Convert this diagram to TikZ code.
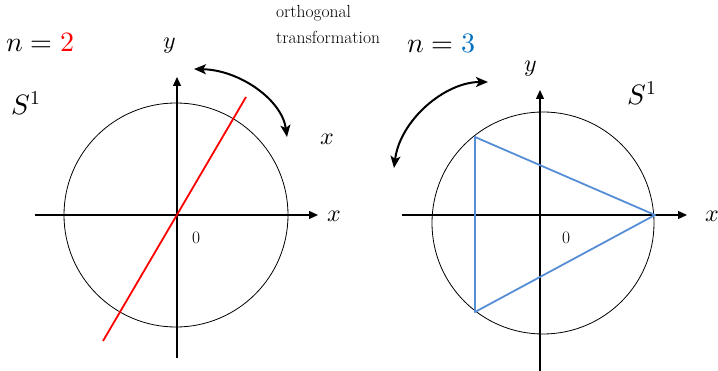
\documentclass[tikz,border=0pt]{standalone}
\usepackage{unicode-math}
\usetikzlibrary{arrows.meta}
\definecolor{triblue}{RGB}{86,142,214}
\definecolor{numblue}{RGB}{0,112,192}
\tikzset{
  axis/.style={line width=1.3pt,-{Triangle[length=9pt,width=8pt]}},
  rim/.style={line width=0.8pt},
  turn/.style={line width=2pt,{Stealth[length=12pt,width=10pt,inset=3pt]}-{Stealth[length=12pt,width=10pt,inset=3pt]}},
  lbl/.style={inner sep=0pt,anchor=base west},
  big/.style={lbl,font=\fontsize{28}{30}\selectfont},
  axl/.style={lbl,font=\fontsize{24}{26}\selectfont},
  small/.style={lbl,font=\fontsize{17.5}{19}\selectfont},
}
\begin{document}
\begin{tikzpicture}[x=1pt,y=-1pt]
\useasboundingbox (0,0) rectangle (718,371);
% ---------- left: n = 2 ----------
\coordinate (O1) at (176,215);
\coordinate (x1s) at (35,215);
\coordinate (x1e) at (318,215);
\coordinate (y1s) at (177,358);
\coordinate (y1e) at (177,77);
\draw[rim] (O1) circle[radius=112pt];
\draw[axis] (x1s) -- (x1e);
\draw[axis] (y1s) -- (y1e);
\coordinate (r1) at (246,97);
\coordinate (r2) at (103,341);
\draw[red,line width=1.8pt] (r1) -- (r2);
\coordinate (a1s) at (194,69);
\coordinate (a1e) at (287,137);
\draw[turn] (a1s) .. controls (240,70) and (282,100) .. (a1e);
\node[big] (n2) at (6,52) {$n = \textcolor{red}{2}$};
\node[big] (S1l) at (11,115) {$S^{1}$};
\node[axl] (yl) at (163,49) {$y$};
\node[axl] (xl1) at (320,145) {$x$};
\node[axl] (xl2) at (327,222) {$x$};
\node[small] (z1) at (192,244) {0};
% ---------- middle text ----------
\node[small] (t1) at (276,18) {orthogonal};
\node[small] (t2) at (276,44) {transformation};
% ---------- right: n = 3 ----------
\coordinate (O2) at (543,223);
\coordinate (x2s) at (402,215);
\coordinate (x2e) at (687,215);
\coordinate (y2s) at (540,371);
\coordinate (y2e) at (540,90);
\draw[rim] (O2) circle[radius=111pt];
\draw[axis] (x2s) -- (x2e);
\draw[axis] (y2s) -- (y2e);
\coordinate (v1) at (475,137);
\coordinate (v2) at (475,312);
\coordinate (v3) at (655,215);
\draw[triblue,line width=1.8pt,line join=round] (v1) -- (v2) -- (v3) -- cycle;
\coordinate (a2s) at (488,82);
\coordinate (a2e) at (394,168);
\draw[turn] (a2s) .. controls (445,82) and (400,120) .. (a2e);
\node[big] (n3) at (407,53) {$n = \textcolor{numblue}{3}$};
\node[big] (S1r) at (627,105) {$S^{1}$};
\node[axl] (yr) at (524,72) {$y$};
\node[axl] (xr) at (705,222) {$x$};
\node[small] (z2) at (562,244) {0};
\end{tikzpicture}
\end{document}
